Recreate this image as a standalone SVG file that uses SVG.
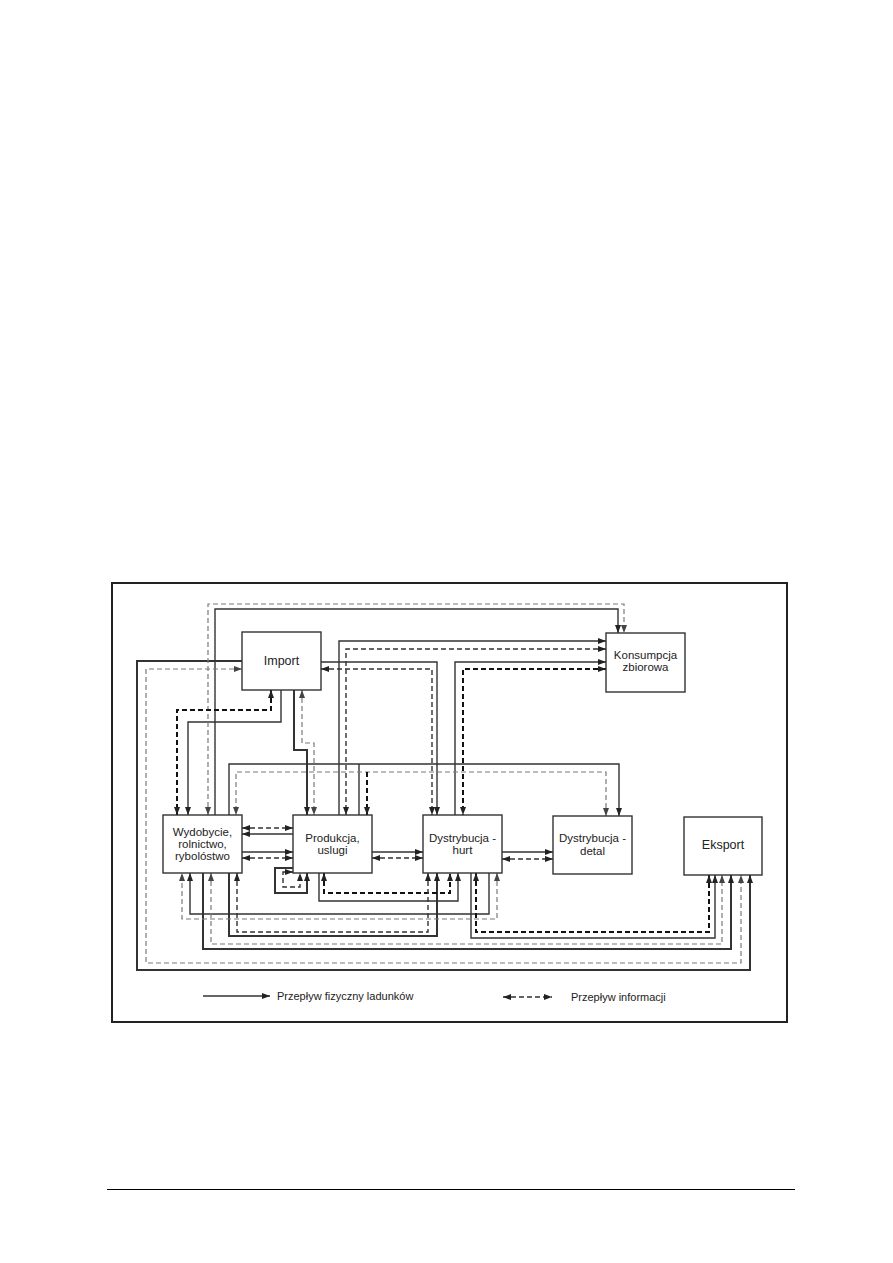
<svg xmlns="http://www.w3.org/2000/svg" width="893" height="1263" viewBox="0 0 893 1263">
<style>
.bg{fill:#fff}
.frame{fill:none;stroke:#222;stroke-width:2}
.box rect{fill:#fff;stroke:#333;stroke-width:1.4}
.box text,.legend text{font-family:"Liberation Sans",Arial,sans-serif;font-size:11.5px;fill:#222;text-anchor:middle}
.legend text{text-anchor:start;font-size:11px}
.s{fill:none;stroke:#333;stroke-width:1.4;marker-end:url(#ah)}
.sb{stroke-width:2}
.nm{marker-end:none}
.d{fill:none;stroke:#333;stroke-width:1.4;stroke-dasharray:5 3;marker-start:url(#ah);marker-end:url(#ah)}
.dl{stroke:#7a7a7a;stroke-width:1.2;marker-start:url(#ahl);marker-end:url(#ahl)}
.db{stroke:#111;stroke-width:2}
.ns{marker-start:none}
</style>
<defs>
<marker id="ah" viewBox="0 0 8 6" refX="8" refY="3" markerWidth="8" markerHeight="6" markerUnits="userSpaceOnUse" orient="auto-start-reverse"><path d="M0,0 L8,3 L0,6 z" fill="#222"/></marker>
<marker id="ahl" viewBox="0 0 8 6" refX="8" refY="3" markerWidth="8" markerHeight="6" markerUnits="userSpaceOnUse" orient="auto-start-reverse"><path d="M0,0 L8,3 L0,6 z" fill="#444"/></marker>
</defs>
<rect class="bg" x="0" y="0" width="893" height="1263"/>
<rect class="frame" x="112" y="583" width="675" height="439"/>
<line x1="107" y1="1189.5" x2="795" y2="1189.5" stroke="#000" stroke-width="1"/>

<g id="connectors">
<!-- solid: physical flow -->
<path class="s" d="M215,815 V609 H618 V633"/>
<path class="s" d="M281,690 V722 H188 V815"/>
<path class="s sb" d="M294,690 V750 H307 V815"/>
<path class="s" d="M321,662 H437 V815"/>
<path class="s" d="M339,815 V641 H606"/>
<path class="s" d="M455,815 V662 H606"/>
<path class="s" d="M229,815 V764 H619 V816"/>
<path class="s nm" d="M359,815 V764"/>
<path class="s" d="M293,834 H242"/>
<path class="s" d="M242,852 H293"/>
<path class="s" d="M372,852 H423"/>
<path class="s" d="M502,852 H553"/>
<path class="s sb" d="M293,868 H275 V893 H307 V873"/>
<path class="s" d="M319,873 V901 H458 V873"/>
<path class="s" d="M489,873 V914 H190 V873"/>
<path class="s sb" d="M229,873 V936 H437 V873"/>
<path class="s" d="M471,873 V938 H715 V875"/>
<path class="s sb" d="M203,873 V949 H731 V875"/>
<path class="s sb" d="M242,661 H137 V970 H750 V875"/>
<!-- dashed: information flow -->
<path class="d dl" d="M208,815 V604 H624 V633"/>
<path class="d db" d="M271,690 V710 H177 V815"/>
<path class="d dl" d="M302,690 V743 H314 V815"/>
<path class="d" d="M321,669 H432 V815"/>
<path class="d" d="M606,649 H346 V815"/>
<path class="d db" d="M606,669 H463 V815"/>
<path class="d dl" d="M606,816 V772 H236 V815"/>
<path class="d db ns" d="M367,772 V815"/>
<path class="d" d="M242,828 H293"/>
<path class="d" d="M242,858 H293"/>
<path class="d" d="M372,858 H423"/>
<path class="d" d="M502,859 H553"/>
<path class="d" d="M293,872 H283 V887 H300 V873"/>
<path class="d db" d="M324,873 V893 H450 V873"/>
<path class="d dl" d="M497,873 V919 H182 V873"/>
<path class="d" d="M237,873 V932 H428 V873"/>
<path class="d db" d="M476,873 V932 H709 V875"/>
<path class="d dl" d="M211,873 V944 H722 V875"/>
<path class="d dl" d="M242,669 H146 V963 H741 V875"/>
</g>

<g id="import" class="box"><rect x="242" y="632" width="79" height="58"/><text x="281.5" y="665" style="font-size:12.5px">Import</text></g>
<g id="konsumpcja" class="box"><rect x="606" y="633" width="79" height="59"/><text x="645.5" y="659">Konsumpcja</text><text x="645.5" y="671">zbiorowa</text></g>
<g id="wydobycie" class="box"><rect x="163" y="815" width="79" height="58"/><text x="202.5" y="836">Wydobycie,</text><text x="202.5" y="848">rolnictwo,</text><text x="202.5" y="860">rybolóstwo</text></g>
<g id="produkcja" class="box"><rect x="293" y="815" width="79" height="58"/><text x="332.5" y="842">Produkcja,</text><text x="332.5" y="854">uslugi</text></g>
<g id="hurt" class="box"><rect x="423" y="815" width="79" height="58"/><text x="462.5" y="842">Dystrybucja -</text><text x="462.5" y="854">hurt</text></g>
<g id="detal" class="box"><rect x="553" y="816" width="79" height="58"/><text x="592.5" y="842">Dystrybucja -</text><text x="592.5" y="855">detal</text></g>
<g id="eksport" class="box"><rect x="684" y="817" width="78" height="58"/><text x="723" y="849" style="font-size:12.5px">Eksport</text></g>

<g id="legend" class="legend">
<path class="s" d="M203,996 H270"/>
<text x="277" y="1000">Przepływ fizyczny ladunków</text>
<path class="d" d="M503,997 H552"/>
<text x="571" y="1001">Przepływ informacji</text>
</g>
</svg>
